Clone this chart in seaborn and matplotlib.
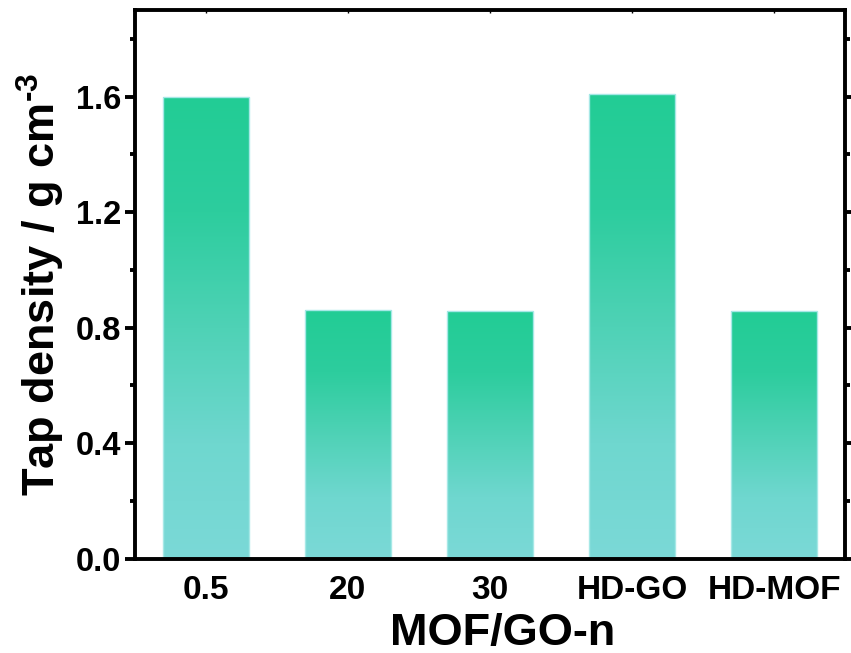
import numpy as np
import pandas as pd
import matplotlib
matplotlib.use('Agg')
import matplotlib.pyplot as plt
import seaborn as sns
from matplotlib.colors import LinearSegmentedColormap
from matplotlib.ticker import MultipleLocator

# data
samples = ['0.5', '20', '30', 'HD-GO', 'HD-MOF']
tap_density = [1.60, 0.86, 0.857, 1.61, 0.857]

df = pd.DataFrame({'sample': samples, 'tap_density': tap_density})

sns.set_style('ticks')
plt.rcParams['font.family'] = ['Liberation Sans', 'DejaVu Sans']
plt.rcParams['font.weight'] = 'bold'
plt.rcParams['mathtext.fontset'] = 'custom'
plt.rcParams['mathtext.rm'] = 'Liberation Sans:bold'
plt.rcParams['mathtext.default'] = 'rm'
for k in ['text.color', 'axes.labelcolor', 'xtick.color', 'ytick.color']:
    plt.rcParams[k] = 'black'

fig = plt.figure(figsize=(8.51, 6.53), dpi=100)
ax = fig.add_axes([0.1586, 0.1447, 0.8344, 0.8400])

sns.barplot(data=df, x='sample', y='tap_density', width=0.6, color='#22cc95',
            edgecolor='#a6e8e6', linewidth=1.0, ax=ax)

# vertical gradient inside each bar (green top -> turquoise bottom)
grad = LinearSegmentedColormap.from_list('tap', ['#7bd9d7', '#6fd7cf', '#4fd2b6', '#2dcd9e', '#22cc95'])
g = np.linspace(0, 1, 256).reshape(-1, 1)
for bar in ax.patches:
    x0, y0 = bar.get_x(), bar.get_y()
    w, h = bar.get_width(), bar.get_height()
    im = ax.imshow(g, cmap=grad, origin='lower', aspect='auto',
                   extent=[x0, x0 + w, y0, y0 + h], zorder=bar.get_zorder() - 0.1,
                   interpolation='bilinear')
    im.set_clip_path(bar)
    bar.set_facecolor('none')

ax.set_xlim(-0.5, 4.5)
ax.set_ylim(0, 1.9)
ax.yaxis.set_major_locator(MultipleLocator(0.4))
ax.yaxis.set_minor_locator(MultipleLocator(0.2))

for s in ax.spines.values():
    s.set_linewidth(2.8)
    s.set_color('black')
    s.set_visible(True)

ax.tick_params(axis='y', which='major', length=7, width=2.8, labelsize=23.5, left=True, right=True, pad=3)
ax.tick_params(axis='y', which='minor', length=3.5, width=2.8, left=True, right=True)
ax.tick_params(axis='y', which='major', right=True, labelright=False)
ax.tick_params(axis='x', which='major', direction='in', length=2, width=1.0, top=True, bottom=True,
               labelsize=24, pad=12)

ax.set_xlabel('MOF/GO-n', fontsize=32.5, fontweight='bold', labelpad=5)
ax.xaxis.label.set_x(0.518)
ax.set_ylabel(r'Tap density / g cm$^{\text{-3}}$', fontsize=32.5, fontweight='bold', labelpad=6)

fig.savefig('out.png', dpi=100)
